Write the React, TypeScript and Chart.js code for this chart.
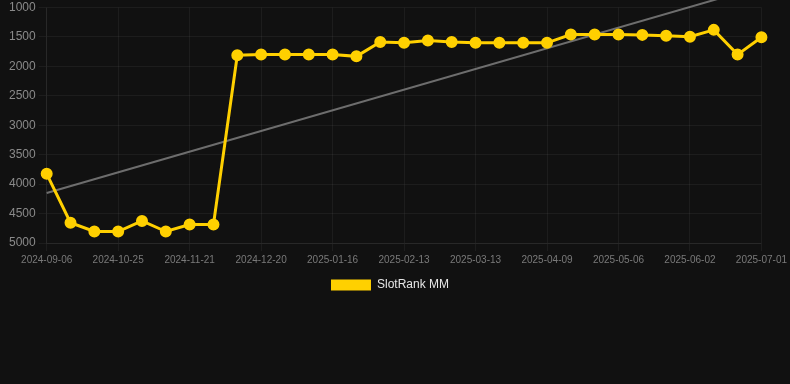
import React, { useEffect, useRef } from "react";
import { Chart, registerables } from "chart.js";

Chart.register(...registerables);

const dates = [
  "2024-09-06", "2024-09-22", "2024-10-08", "2024-10-25", "2024-11-03", "2024-11-12",
  "2024-11-21", "2024-11-30", "2024-12-10", "2024-12-20", "2024-12-29", "2025-01-07",
  "2025-01-16", "2025-01-25", "2025-02-04", "2025-02-13", "2025-02-22", "2025-03-04",
  "2025-03-13", "2025-03-22", "2025-03-31", "2025-04-09", "2025-04-18", "2025-04-27",
  "2025-05-06", "2025-05-15", "2025-05-24", "2025-06-02", "2025-06-12", "2025-06-22",
  "2025-07-01",
];

const rankValues = [
  3825, 4655, 4805, 4805, 4625, 4805, 4685, 4685, 1810, 1800,
  1800, 1800, 1800, 1830, 1585, 1600, 1560, 1585, 1600, 1600,
  1600, 1600, 1460, 1460, 1460, 1465, 1480, 1495, 1380, 1800,
  1505,
];

const trendStart = 4150;
const trendEnd = 640;

const yTicks = [1000, 1500, 2000, 2500, 3000, 3500, 4000, 4500, 5000];

const FONT = "Liberation Sans, Arial, sans-serif";
const GRID = "rgba(255,255,255,0.05)";

export default function App() {
  const ref = useRef<HTMLCanvasElement | null>(null);

  useEffect(() => {
    document.body.style.margin = "0";
    document.body.style.background = "#111111";
    const trend = dates.map((_, i) =>
      i === 0 ? trendStart : i === dates.length - 1 ? trendEnd : null
    );
    const chart = new Chart(ref.current!, {
      type: "line",
      data: {
        labels: dates,
        datasets: [
          {
            label: "SlotRank MM",
            data: rankValues,
            borderColor: "#ffd000",
            backgroundColor: "#ffd000",
            pointBackgroundColor: "#ffd000",
            pointBorderColor: "#ffd000",
            borderWidth: 3,
            pointRadius: 4.5,
            tension: 0,
            order: 1,
          },
          {
            label: "trend",
            data: trend,
            borderColor: "rgba(140,140,140,0.75)",
            borderWidth: 2,
            pointRadius: 0,
            spanGaps: true,
            clip: false,
            order: 2,
          },
        ],
      },
      options: {
        animation: false,
        responsive: true,
        maintainAspectRatio: false,
        layout: { padding: { left: 6, right: 16, top: 0 } },
        plugins: {
          legend: {
            position: "bottom",
            labels: {
              color: "#e6e6e6",
              font: { family: FONT, size: 12 },
              boxWidth: 40,
              boxHeight: 11,
              generateLabels: (c) =>
                Chart.defaults.plugins.legend.labels
                  .generateLabels(c)
                  .filter((it) => it.text !== "trend")
                  .map((it) => ({ ...it, lineWidth: 0 })),
            },
          },
          tooltip: { enabled: false },
        },
        scales: {
          x: {
            grid: {
              color: (ctx) => (ctx.index % 3 === 0 ? GRID : "rgba(0,0,0,0)"),
            },
            border: { color: GRID },
            ticks: {
              color: "#7a7a7a",
              font: { family: FONT, size: 10 },
              autoSkip: false,
              maxRotation: 0,
              callback: (_v, i) => (i % 3 === 0 ? dates[i] : ""),
            },
          },
          y: {
            reverse: true,
            min: yTicks[0],
            max: yTicks[yTicks.length - 1],
            afterBuildTicks: (scale) => {
              scale.ticks = yTicks.map((v) => ({ value: v }));
            },
            grid: { color: GRID },
            border: { color: GRID },
            ticks: {
              color: "#8a8a8a",
              font: { family: FONT, size: 12, lineHeight: 0.6 },
              callback: (v) => String(v),
            },
          },
        },
      },
    });
    return () => chart.destroy();
  }, []);

  return (
    <div style={{ width: 790, height: 301, position: "relative" }}>
      <canvas ref={ref} />
    </div>
  );
}
